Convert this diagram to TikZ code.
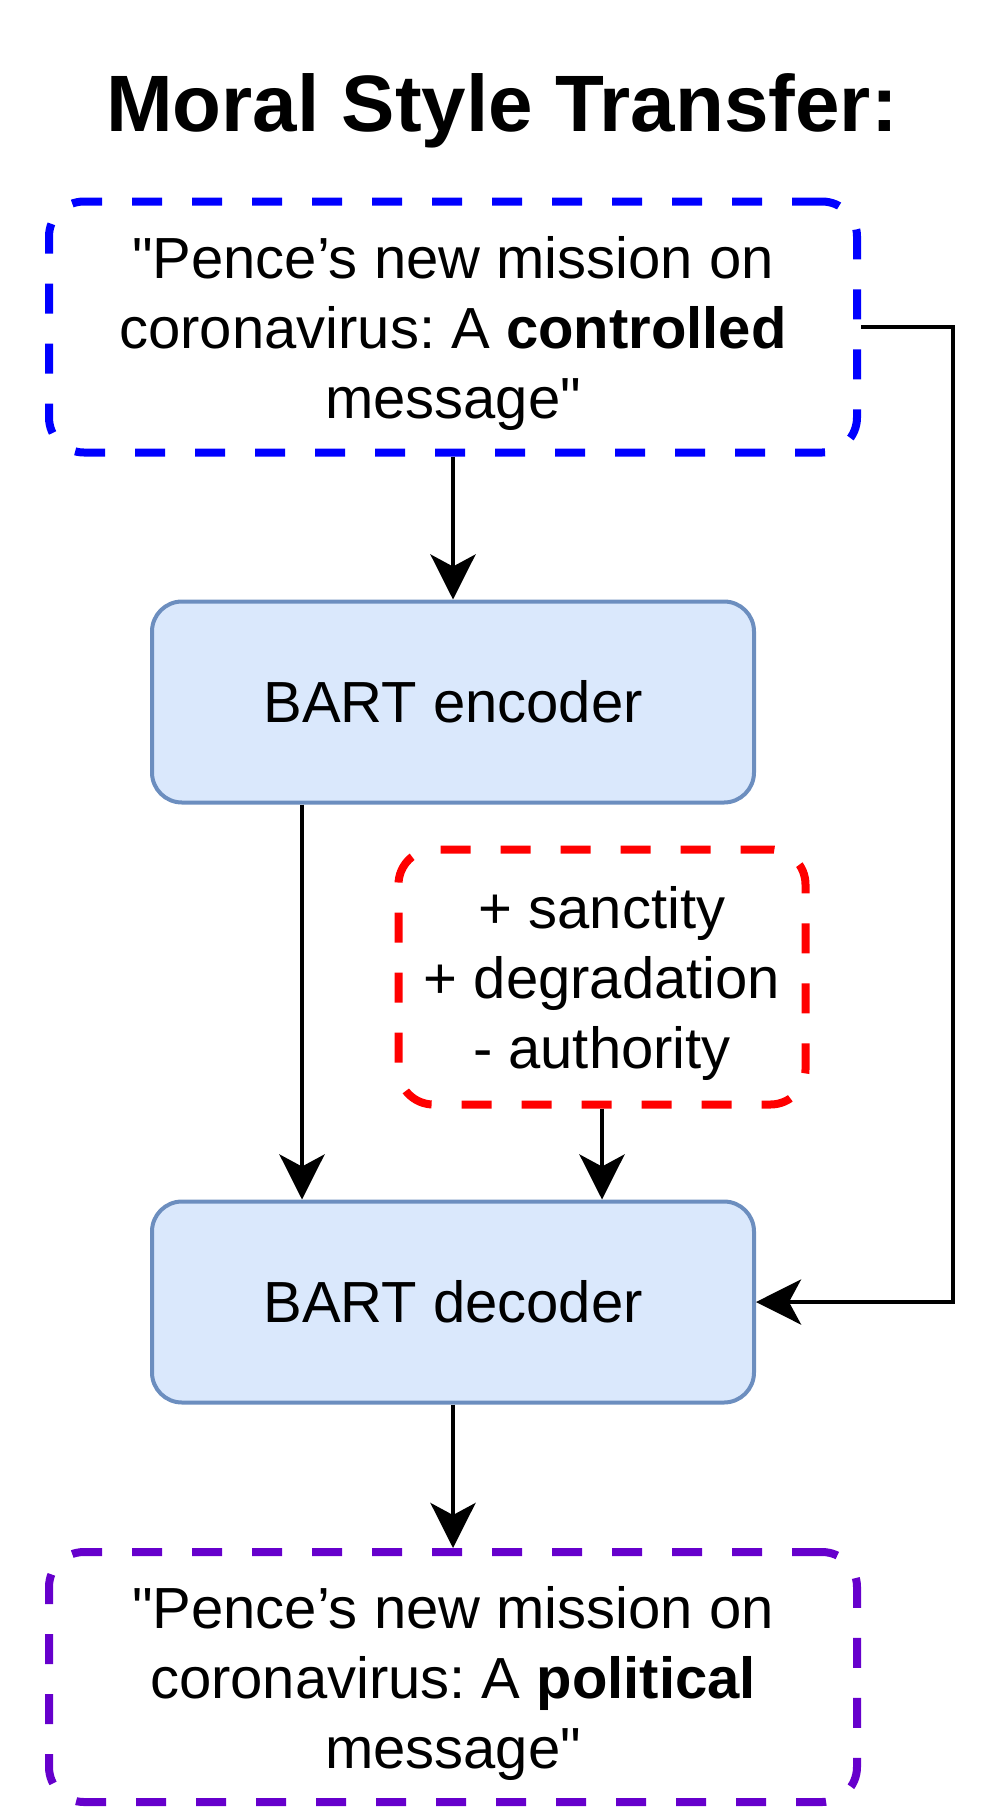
\documentclass[tikz,border=0pt]{standalone}
\usepackage{fontspec}
\setmainfont{Liberation Sans}
\usetikzlibrary{arrows.meta}
\definecolor{srcblue}{HTML}{0000FF}
\definecolor{moralred}{HTML}{FF0000}
\definecolor{outpurple}{HTML}{6600CC}
\definecolor{bartfill}{HTML}{DAE8FC}
\definecolor{bartdraw}{HTML}{6C8EBF}
\frenchspacing

\begin{document}
\begin{tikzpicture}[x=1pt, y=-1pt,
    txt/.style={font=\fontsize{58}{70}\selectfont, align=center, inner sep=0pt},
    sentence/.style={txt, text depth=-4pt, draw, rounded corners=35pt, line width=8pt, dash pattern=on 30pt off 30pt, minimum width=808pt, minimum height=251pt},
    bart/.style={txt, draw=bartdraw, fill=bartfill, rounded corners=30pt, line width=4pt, minimum width=602pt, minimum height=201pt},
    arr/.style={line width=4.5pt, -{Stealth[length=45pt,width=45pt,inset=12pt]}}]
  \useasboundingbox (0,0) rectangle (1005,1810);
  \node[font=\fontsize{80}{96}\selectfont\bfseries, anchor=base] (title) at (502,131) {Moral Style Transfer:};
  \node[sentence, draw=srcblue] (src) at (453,327) {\textquotedbl Pence’s new mission on\\coronavirus: A \textbf{controlled}\\message\textquotedbl};
  \node[bart] (enc) at (453,702) {BART encoder};
  \node[sentence, draw=moralred, minimum width=407pt, minimum height=255pt] (moral) at (602,977) {+ sanctity\\+ degradation\\- authority};
  \node[bart] (dec) at (453,1302) {BART decoder};
  \node[sentence, draw=outpurple, minimum height=250pt] (out) at (453,1677) {\textquotedbl Pence’s new mission on\\coronavirus: A \textbf{political}\\message\textquotedbl};
  \coordinate (side) at (953,1302);
  \draw[arr] (src) -- (enc);
  \draw[arr] ([xshift=-151pt]enc.south) -- ([xshift=-151pt]dec.north);
  \draw[arr] (moral.south) -- (moral.south |- dec.north);
  \draw[arr] (src.east) -| (side) -- (dec.east);
  \draw[arr] (dec) -- (out);
\end{tikzpicture}
\end{document}
